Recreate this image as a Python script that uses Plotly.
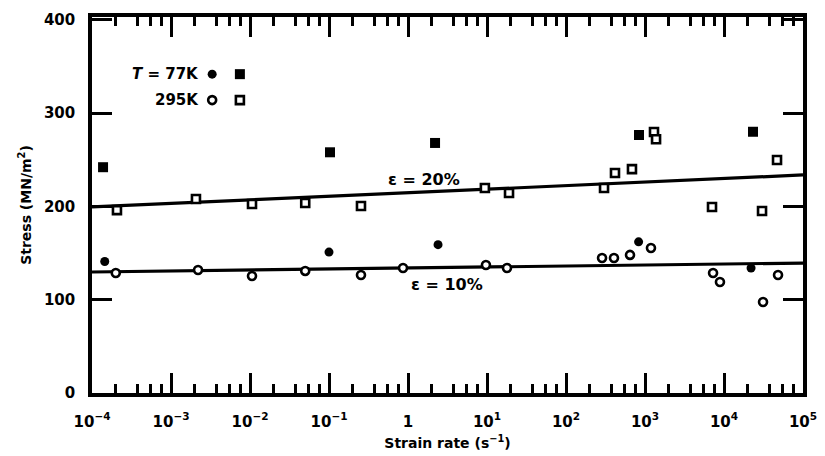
import plotly.graph_objects as go

# ---- data ----
c77_x = [1.45e-4, 0.10, 2.4, 830, 2.2e4]
c77_y = [141, 151, 159, 162, 134]

c295_x = [2.0e-4, 2.2e-3, 1.06e-2, 0.050, 0.254, 0.865, 9.7, 17.9, 286, 405, 646, 1190, 7270, 8890, 31200, 48300]
c295_y = [128.6, 131.8, 125.4, 130.8, 126.5, 134, 137.2, 134, 144.7, 144.7, 148, 155.4, 128.6, 119, 97.5, 126.5]

s77_x = [1.38e-4, 0.103, 2.2, 840, 23300]
s77_y = [242, 258, 268, 276.5, 280]

s295_x = [2.07e-4, 2.07e-3, 1.06e-2, 0.050, 0.254, 9.4, 19, 303, 417, 684, 1300, 1380, 7050, 30300, 46900]
s295_y = [196, 208, 202.6, 203.6, 200.4, 219.7, 214.4, 219.7, 235.8, 240, 279.7, 272, 199.4, 195, 249.7]

fit_x = [1e-4, 1e5]
fit20_y = [199.4, 233.7]
fit10_y = [129.7, 139.3]

x_tickvals = [1e-4, 1e-3, 1e-2, 1e-1, 1, 1e1, 1e2, 1e3, 1e4, 1e5]
x_ticktext = ["10<sup>−4</sup>", "10<sup>−3</sup>", "10<sup>−2</sup>", "10<sup>−1</sup>", "1",
              "10<sup>1</sup>", "10<sup>2</sup>", "10<sup>3</sup>", "10<sup>4</sup>", "10<sup>5</sup>"]
y_tickvals = [0, 100, 200, 300, 400]
y_ticktext = ["0", "100", "200", "300", "400"]

minor_mult = [2, 3.8, 5.5, 7.5]
minor_vals = [m * d for d in x_tickvals[:-1] for m in minor_mult]

FONT = "DejaVu Sans"
BLACK = "black"

fig = go.Figure()

fig.add_trace(go.Scatter(x=fit_x, y=fit20_y, mode="lines", line=dict(color=BLACK, width=3.2), showlegend=False))
fig.add_trace(go.Scatter(x=fit_x, y=fit10_y, mode="lines", line=dict(color=BLACK, width=3.2), showlegend=False))

open_marker_line = dict(color=BLACK, width=2.6)

fig.add_trace(go.Scatter(x=c77_x, y=c77_y, mode="markers",
                         marker=dict(symbol="circle", size=9, color=BLACK), showlegend=False))
fig.add_trace(go.Scatter(x=c295_x, y=c295_y, mode="markers",
                         marker=dict(symbol="circle", size=8, color="white", line=open_marker_line),
                         showlegend=False))
fig.add_trace(go.Scatter(x=s77_x, y=s77_y, mode="markers",
                         marker=dict(symbol="square", size=10, color=BLACK), showlegend=False))
fig.add_trace(go.Scatter(x=s295_x, y=s295_y, mode="markers",
                         marker=dict(symbol="square", size=8, color="white", line=open_marker_line),
                         showlegend=False))

# legend key markers on an overlay axis (0..1 in both directions)
fig.add_trace(go.Scatter(x=[0.169], y=[0.848], xaxis="x2", yaxis="y2", mode="markers",
                         marker=dict(symbol="circle", size=9, color=BLACK), showlegend=False))
fig.add_trace(go.Scatter(x=[0.208], y=[0.848], xaxis="x2", yaxis="y2", mode="markers",
                         marker=dict(symbol="square", size=10, color=BLACK), showlegend=False))
fig.add_trace(go.Scatter(x=[0.169], y=[0.779], xaxis="x2", yaxis="y2", mode="markers",
                         marker=dict(symbol="circle", size=8, color="white", line=open_marker_line),
                         showlegend=False))
fig.add_trace(go.Scatter(x=[0.208], y=[0.779], xaxis="x2", yaxis="y2", mode="markers",
                         marker=dict(symbol="square", size=8, color="white", line=open_marker_line),
                         showlegend=False))

tickfont = dict(family=FONT, size=15, color=BLACK, weight="bold")
textfont = dict(family=FONT, size=15, color=BLACK, weight="bold")

fig.update_layout(
    width=825, height=456,
    margin=dict(l=92, r=22, t=17, b=63),
    paper_bgcolor="white", plot_bgcolor="white",
    font=dict(family=FONT, color=BLACK),
    xaxis=dict(
        type="log", range=[-4, 5], automargin=False,
        tickmode="array", tickvals=x_tickvals, ticktext=x_ticktext,
        ticks="inside", ticklen=20, tickwidth=2.5, tickcolor=BLACK,
        showline=True, linewidth=3.5, linecolor=BLACK, mirror="allticks",
        showgrid=False, zeroline=False,
        tickfont=tickfont, ticklabelstandoff=12,
        minor=dict(tickmode="array", tickvals=minor_vals, ticks="inside", ticklen=9,
                   tickwidth=2.5, tickcolor=BLACK, showgrid=False),
        title=dict(text="Strain rate (s<sup>−1</sup>)", font=dict(family=FONT, size=14, weight="bold"), standoff=9),
    ),
    yaxis=dict(
        range=[0, 403], automargin=False,
        tickmode="array", tickvals=y_tickvals, ticktext=y_ticktext,
        ticks="inside", ticklen=20, tickwidth=2.5, tickcolor=BLACK,
        showline=True, linewidth=3.5, linecolor=BLACK, mirror="allticks",
        showgrid=False, zeroline=False,
        tickfont=tickfont, ticklabelstandoff=10,
        title=dict(text="Stress (MN/m<sup>2</sup>)", font=dict(family=FONT, size=14, weight="bold"), standoff=10),
    ),
    xaxis2=dict(range=[0, 1], overlaying="x", visible=False, fixedrange=True),
    yaxis2=dict(range=[0, 1], overlaying="y", visible=False, fixedrange=True),
    annotations=[
        dict(text="<i>T</i> = 77K", xref="x2", yref="y2", x=0.154, y=0.848, xanchor="right",
             yanchor="middle", showarrow=False, font=textfont),
        dict(text="295K", xref="x2", yref="y2", x=0.154, y=0.779, xanchor="right",
             yanchor="middle", showarrow=False, font=textfont),
        dict(text="ε = 20%", xref="paper", yref="paper", x=(424 - 92) / 711, y=(393 - 180) / 376,
             xanchor="center", yanchor="middle", showarrow=False, font=dict(family=FONT, size=16, weight="bold")),
        dict(text="ε = 10%", xref="paper", yref="paper", x=(447 - 92) / 711, y=(393 - 284) / 376,
             xanchor="center", yanchor="middle", showarrow=False, font=dict(family=FONT, size=16, weight="bold")),
    ],
)

fig.write_html("out.html")
